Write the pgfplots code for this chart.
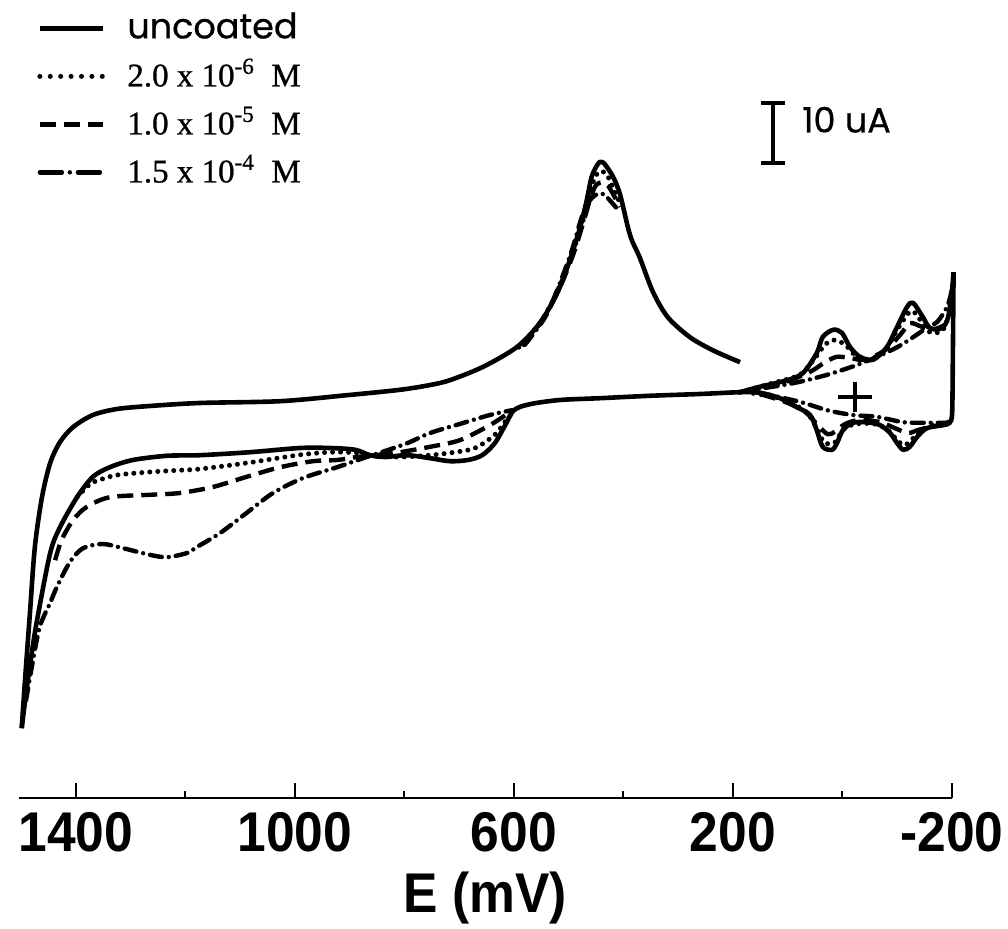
\documentclass[border=0pt]{standalone}
\usepackage{pgfplots}
\pgfplotsset{compat=1.18}
\usepackage{fontspec}
\newfontfamily\cond{Liberation Sans}[FakeStretch=0.92]
\newfontfamily\pop{Poppins}[FakeBold=0.6]
\newfontfamily\ser{Liberation Serif}[FakeBold=0.8]
\pgfplotsset{
 solidst/.style={black, line width=2.3pt, line join=round, smooth, tension=0.5},
 dotst/.style={black, line width=2.5pt, line cap=round, dash pattern=on 0pt off 4pt, smooth, tension=0.5},
 dashst/.style={black, line width=2.2pt, dash pattern=on 8pt off 4pt, smooth, tension=0.5},
 dashdotst/.style={black, line width=2.2pt, line cap=round, dash pattern=on 6pt off 3.5pt on 0pt off 3.5pt, smooth, tension=0.5},
}
\begin{document}
\begin{tikzpicture}
\begin{axis}[
 scale only axis, width=466.47pt, height=399pt,
 xmin=-200, xmax=1504, ymin=-66.833, ymax=66.167,
 x dir=reverse,
 axis x line=bottom, axis y line=none,
 x axis line style={-, line width=1.3pt},
 xtick={1400,1000,600,200,-200},
 xticklabels={1400,1000,600,200,-200},
 minor xtick={1200,800,400,0},
 xtick align=inside,
 major tick length=7.5pt, minor tick length=3.5pt,
 every tick/.style={line width=1pt, black},
 xticklabel style={font=\cond\bfseries\fontsize{28}{28}\selectfont, inner sep=0pt, yshift=-7pt},
 xlabel={E (mV)},
 xlabel style={font=\cond\bfseries\fontsize{28}{28}\selectfont, at={(axis description cs:0.5,0)}, anchor=base, yshift=-57pt, inner sep=0pt},
 clip=false,
 legend cell align=left,
 legend style={draw=none, fill=none, at={(axis description cs:0,1)}, anchor=north west, xshift=9pt, yshift=-7pt, inner sep=0pt,
   nodes={inner sep=0pt, text height=12pt, text depth=2pt}, row sep=10pt},
 legend image code/.code={\draw[#1] (0pt,0pt) -- (31.5pt,0pt);},
]
\coordinate (sw) at (axis description cs:0,0);
\addlegendimage{black, line width=2.3pt}
\addlegendentry{\hspace*{11pt}\pop\fontsize{17.5}{17.5}\selectfont uncoated}
\addlegendimage{black, line width=2.5pt, line cap=round, dash pattern=on 0pt off 5.2pt}
\addlegendentry{\hspace*{11pt}\ser\fontsize{16.5}{16.5}\selectfont 2.0 x 10\textsuperscript{-6}\ \ M}
\addlegendimage{black, line width=2.2pt, dash pattern=on 8pt off 4pt}
\addlegendentry{\hspace*{11pt}\ser\fontsize{16.5}{16.5}\selectfont 1.0 x 10\textsuperscript{-5}\ \ M}
\addlegendimage{black, line width=2.2pt, line cap=round, dash pattern=on 11pt off 4pt on 0pt off 4pt}
\addlegendentry{\hspace*{11pt}\ser\fontsize{16.5}{16.5}\selectfont 1.5 x 10\textsuperscript{-4}\ \ M}

% uncoated (solid)
\addplot[solidst, forget plot] coordinates {(187,0.8) (151,1.7) (101,2.8) (72,4.0) (47,7.3) (36,10.0) (17,11.2) (1,10.7) (-14,8.3) (-32,6.7) (-56,6.2) (-81,8.3) (-100,11.7) (-118,15.0) (-129,15.7) (-147,13.3) (-160,11.5) (-182,11.5) (-193,13.3) (-200,17.8) (-203,20.8)};
\addplot[solidst, forget plot] coordinates {(-203,20.8) (-202,10) (-201,0) (-200,-3.2) (-196,-4.3) (-184,-4.7) (-154,-5.2) (-136,-6.7) (-123,-8.3) (-111,-8.8) (-100,-7.7) (-87,-6.0) (-69,-4.7) (-45,-4.2) (-19,-4.3) (-1,-5.5) (10,-7.7) (19,-8.8) (36,-8.3) (47,-5.5) (59,-3.0) (83,-1.7) (114,-0.2) (151,0.7) (187,0.8) (260,0.5) (352,0.2) (443,-0.2) (516,-0.5) (571,-1.2) (600,-2.2) (616,-4.7) (635,-7.7) (658,-9.7) (684,-10.5) (717,-10.7) (753,-10.2) (795,-9.7) (836,-10.0) (863,-9.7) (890,-8.8) (936,-8.5) (991,-8.5) (1082,-9.2) (1174,-9.7) (1234,-9.8) (1296,-10.5) (1338,-11.7) (1369,-13.3) (1398,-16.7) (1429,-21.7) (1447,-26.0) (1471,-37.2) (1484,-44.7) (1495,-52.2) (1499,-55.2)};
\addplot[solidst, forget plot] coordinates {(1499,-55.2) (1493,-47.2) (1484,-36.0) (1475,-25.0) (1462,-16.7) (1447,-11.0) (1429,-7.5) (1405,-5.0) (1369,-3.0) (1325,-2.0) (1265,-1.5) (1174,-1.0) (1027,-0.7) (905,0.3) (808,1.2) (753,2.0) (717,2.8) (657,5.0) (595,8.3) (553,12.3) (521,17.3) (498,22.8) (479,28.3) (467,32.8) (458,36.7) (447,38.8) (441,39.2) (434,38.8) (419,36.7) (406,33.7) (388,27.0) (370,23.2) (346,17.5) (319,13.3) (279,10.0) (237,7.8) (187,5.8)};

% 2.0e-6 M (dotted)
\addplot[dotst, forget plot] coordinates {(1398,-16.7) (1374,-14.5) (1356,-13.8) (1325,-13.0) (1265,-12.5) (1210,-12.2) (1174,-12.0) (1088,-11.0) (996,-9.7) (936,-9.2) (887,-9.3) (854,-9.8) (808,-10.0) (753,-9.7) (708,-9.2) (671,-8.5) (635,-6.3) (611,-3.5) (598,-2.2)};
\addplot[dotst, forget plot] coordinates {(591,8.3) (549,12.8) (518,18.2) (494,23.7) (476,28.7) (463,32.8) (454,36.2) (445,37.5) (436,37.5) (425,36.2) (414,33.7) (403,32.0)};
\addplot[dotst, forget plot] coordinates {(187,0.8) (132,2.2) (78,3.7) (50,6.5) (32,8.7) (14,9.5) (-5,8.7) (-23,7.0) (-47,6.2) (-78,7.8) (-100,11.2) (-118,13.7) (-129,14.3) (-145,12.5) (-160,10.8) (-182,11.0) (-193,13.2)};
\addplot[dotst, forget plot] coordinates {(-193,-4.2) (-160,-4.8) (-138,-6.0) (-123,-7.5) (-112,-8.0) (-100,-7.2) (-83,-5.5) (-59,-4.5) (-23,-4.5) (-1,-5.5) (10,-7.2) (19,-7.8) (34,-7.5) (47,-5.2) (63,-2.8) (87,-1.3) (123,0.0) (169,0.7)};

% 1.0e-5 M (dashed)
\addplot[dashst, forget plot] coordinates {(1438,-27.2) (1426,-23.8) (1405,-20.5) (1380,-18.3) (1338,-16.7) (1265,-16.3) (1210,-16.0) (1150,-15.0) (1088,-13.3) (1027,-11.7) (967,-10.7) (923,-10.5) (887,-10.0) (854,-9.7) (808,-9.2) (753,-8.3) (699,-7.2) (644,-4.7) (607,-2.5)};
\addplot[dashst, forget plot] coordinates {(585,8.5) (545,13.2) (514,18.7) (490,24.2) (472,29.5) (459,33.5) (450,35.3) (439,35.8) (428,35.2) (417,33.5) (406,31.7)};
\addplot[dashst, forget plot] coordinates {(187,0.8) (114,2.2) (59,4.2) (32,5.8) (10,6.7) (-14,6.5) (-41,6.2) (-78,7.8) (-105,10.3) (-123,12.3) (-142,11.8) (-164,11.2) (-187,12.0)};
\addplot[dashst, forget plot] coordinates {(-193,-4.5) (-160,-5.0) (-138,-5.5) (-120,-6.0) (-96,-5.2) (-69,-4.2) (-32,-3.8) (-5,-4.5) (14,-5.8) (27,-6.2) (45,-4.7) (68,-2.5) (105,-0.8) (151,0.5)};

% 1.5e-4 M (dash-dot)
\addplot[dashdotst, forget plot] coordinates {(1491,-50.5) (1480,-44.7) (1466,-38.3) (1447,-34.3) (1435,-31.7) (1411,-27.5) (1387,-25.2) (1351,-24.5) (1314,-25.2) (1265,-26.3) (1234,-26.7) (1197,-26.0) (1179,-25.0) (1137,-22.7) (1088,-19.3) (1040,-16.0) (985,-13.5) (923,-11.7) (869,-10.0) (845,-9.3) (795,-7.7) (753,-6.0) (699,-4.5) (644,-3.0) (604,-2.2)};
\addplot[dashdotst, forget plot] coordinates {(580,8.7) (543,13.3) (516,19.0) (494,24.5) (476,30.0) (461,32.8) (448,33.8) (436,33.8) (425,32.8) (410,31.2)};
\addplot[dashdotst, forget plot] coordinates {(187,0.8) (163,1.2) (90,2.3) (28,3.7) (-37,5.7) (-100,8.3) (-154,11.5) (-173,12.5) (-191,15.0) (-200,17.8)};
\addplot[dashdotst, forget plot] coordinates {(-196,-4.3) (-154,-4.3) (-111,-4.2) (-63,-3.3) (-19,-3.0) (28,-2.2) (78,-0.8) (151,0.7)};

% scale bar 10 uA
\draw[line width=1.8pt] (axis cs:127,39) -- (axis cs:127,49);
\draw[line width=1.8pt] (axis cs:149,39) -- (axis cs:104,39);
\draw[line width=1.8pt] (axis cs:149,49) -- (axis cs:104,49);
\node[anchor=west, inner sep=0pt, font=\pop\fontsize{17.5}{17.5}\selectfont] at (axis cs:74,46.2) {10 uA};
% zero-current cross
\draw[line width=1.6pt] (axis cs:8,0) -- (axis cs:-54,0);
\draw[line width=1.6pt] (axis cs:-23,2.5) -- (axis cs:-23,-2.5);
\end{axis}
\pgfresetboundingbox
\useasboundingbox ([xshift=-9.5pt,yshift=-65pt]sw) rectangle ([xshift=494.5pt,yshift=399pt]sw);
\end{tikzpicture}
\end{document}
